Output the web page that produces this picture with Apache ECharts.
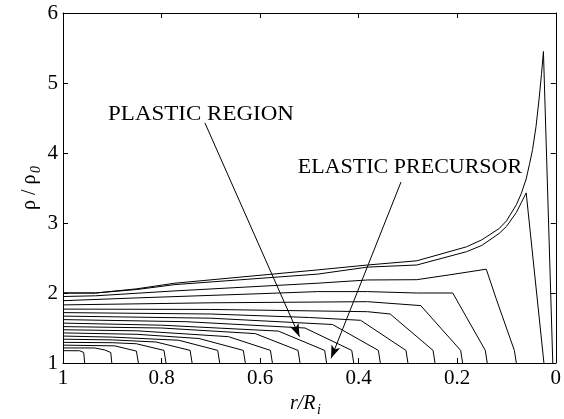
<!DOCTYPE html>
<html>
<head>
<meta charset="utf-8">
<script src="https://cdn.jsdelivr.net/npm/echarts@6/dist/echarts.min.js"></script>
<style>
html,body{margin:0;padding:0;background:#fff;}
#c{width:564px;height:419px;}
</style>
</head>
<body>
<div id="c"></div>
<script>
// density profiles rho/rho0 vs r/Ri, one per time step: [r, rho]
const profile01 = [[1,1.176],[0.966,1.175],[0.958,1.15],[0.956,1.0]];
const profile02 = [[1,1.215],[0.936,1.215],[0.915,1.186],[0.903,1.15],[0.901,1.0]];
const profile03 = [[1,1.255],[0.895,1.245],[0.851,1.17],[0.847,1.0]];
const profile04 = [[1,1.295],[0.9,1.29],[0.851,1.275],[0.795,1.18],[0.791,1.0]];
const profile05 = [[1,1.34],[0.9,1.33],[0.811,1.30],[0.742,1.18],[0.738,1.0]];
const profile06 = [[1,1.385],[0.9,1.37],[0.765,1.325],[0.686,1.18],[0.682,1.0]];
const profile07 = [[1,1.43],[0.85,1.41],[0.724,1.35],[0.634,1.18],[0.630,1.0]];
const profile08 = [[1,1.475],[0.85,1.46],[0.664,1.376],[0.579,1.18],[0.575,1.0]];
const profile09 = [[1,1.52],[0.8,1.50],[0.610,1.42],[0.523,1.18],[0.519,1.0]];
const profile10 = [[1,1.57],[0.8,1.54],[0.563,1.456],[0.469,1.18],[0.465,1.0]];
const profile11 = [[1,1.62],[0.75,1.59],[0.509,1.50],[0.414,1.18],[0.410,1.0]];
const profile12 = [[1,1.67],[0.7,1.64],[0.453,1.55],[0.360,1.18],[0.356,1.0]];
const profile13 = [[1,1.72],[0.7,1.70],[0.5,1.65],[0.396,1.61],[0.304,1.18],[0.300,1.0]];
const profile14 = [[1,1.77],[0.7,1.765],[0.382,1.733],[0.336,1.70],[0.249,1.18],[0.245,1.0]];
const profile15 = [[1,1.83],[0.7,1.86],[0.382,1.876],[0.274,1.82],[0.193,1.18],[0.189,1.0]];
const profile16 = [[1,1.89],[0.85,1.93],[0.6,1.99],[0.483,2.02],[0.382,2.02],[0.282,2.0],[0.209,2.0],[0.143,1.18],[0.139,1.0]];
const profile17 = [[1,1.95],[0.934,1.96],[0.773,2.03],[0.483,2.14],[0.382,2.186],[0.282,2.19],[0.215,2.26],[0.141,2.34],[0.121,1.92],[0.084,1.18],[0.080,1.0]];
const profile18 = [[1,2.0],[0.934,2.0],[0.85,2.05],[0.773,2.12],[0.483,2.27],[0.382,2.37],[0.282,2.40],[0.181,2.59],[0.15,2.68],[0.115,2.85],[0.10,2.95],[0.08,3.15],[0.07,3.29],[0.060,3.43],[0.024,1.0]];
const profile19 = [[1,2.0],[0.934,2.0],[0.85,2.06],[0.773,2.14],[0.483,2.33],[0.382,2.40],[0.282,2.46],[0.181,2.66],[0.15,2.76],[0.115,2.92],[0.10,3.03],[0.08,3.26],[0.07,3.42],[0.06,3.63],[0.053,3.85],[0.047,4.05],[0.040,4.38],[0.034,4.76],[0.029,5.12],[0.025,5.45],[0.006,1.0]];

const profiles = [profile01,profile02,profile03,profile04,profile05,profile06,profile07,profile08,profile09,profile10,
  profile11,profile12,profile13,profile14,profile15,profile16,profile17,profile18,profile19];

// annotation arrows: [from [r, rho], to [r, rho]]
const plasticArrow = [[0.712,4.43],[0.520,1.376]];
const elasticArrow = [[0.314,3.586],[0.456,1.067]];

const xTicks = [0, 1, 0.2];   // min, max, interval
const yTicks = [1, 6, 1];

const FONT = '"Liberation Serif", "Times New Roman", serif';

const chart = echarts.init(document.getElementById('c'), null, {renderer:'canvas'});

const series = profiles.map((p) => ({
  type: 'line',
  data: p,
  showSymbol: false,
  symbol: 'none',
  silent: true,
  lineStyle: {color: '#000', width: 1},
  emphasis: {disabled: true},
  animation: false
}));

series.push({
  type: 'line',
  data: [],
  silent: true,
  animation: false,
  markLine: {
    silent: true,
    animation: false,
    symbol: ['none', 'arrow'],
    symbolSize: [1, 11],
    label: {show: false},
    lineStyle: {color: '#000', width: 1, type: 'solid'},
    emphasis: {disabled: true},
    data: [
      [{coord: plasticArrow[0]}, {coord: plasticArrow[1], symbolSize: [7, 13]}],
      [{coord: elasticArrow[0]}, {coord: elasticArrow[1], symbolSize: [7, 13]}]
    ]
  }
});

const axisCommon = {
  type: 'value',
  axisLine: {show: true, onZero: false, lineStyle: {color: '#000', width: 1}},
  axisTick: {show: true, inside: true, length: 5, lineStyle: {color: '#000'}},
  splitLine: {show: false}
};

chart.setOption({
  animation: false,
  backgroundColor: '#fff',
  grid: {left: 63, right: 4, top: 13, bottom: 56, containLabel: false},
  xAxis: [
    Object.assign({}, axisCommon, {
      position: 'bottom', inverse: true,
      min: xTicks[0], max: xTicks[1], interval: xTicks[2],
      axisLabel: {show: true, color: '#000', fontFamily: FONT, fontSize: 21, margin: 5}
    }),
    Object.assign({}, axisCommon, {
      position: 'top', inverse: true,
      min: xTicks[0], max: xTicks[1], interval: xTicks[2],
      axisLabel: {show: false}
    })
  ],
  yAxis: [
    Object.assign({}, axisCommon, {
      position: 'left',
      min: yTicks[0], max: yTicks[1], interval: yTicks[2],
      axisLabel: {show: true, color: '#000', fontFamily: FONT, fontSize: 21, margin: 5}
    }),
    Object.assign({}, axisCommon, {
      position: 'right',
      min: yTicks[0], max: yTicks[1], interval: yTicks[2],
      axisLabel: {show: false}
    })
  ],
  series: series,
  graphic: [
    {
      type: 'text', x: 201, y: 115, scaleX: 1.15, silent: true,
      style: {text: 'PLASTIC REGION', fill: '#000', font: '20px ' + FONT, align: 'center', verticalAlign: 'middle'}
    },
    {
      type: 'text', x: 410, y: 168, scaleX: 1.1, silent: true,
      style: {text: 'ELASTIC PRECURSOR', fill: '#000', font: '20px ' + FONT, align: 'center', verticalAlign: 'middle'}
    },
    {
      type: 'group', x: 30, y: 188, rotation: Math.PI / 2, silent: true,
      children: [
        {type: 'text', x: -22, y: 0, style: {text: 'ρ / ρ', fill: '#000', font: '20px ' + FONT, align: 'left', verticalAlign: 'middle'}},
        {type: 'text', x: 15, y: 6, style: {text: '0', fill: '#000', font: 'italic 14px ' + FONT, align: 'left', verticalAlign: 'middle'}}
      ]
    },
    {
      type: 'text', x: 290, y: 404, silent: true,
      style: {text: 'r/R', fill: '#000', font: 'italic 20px ' + FONT, align: 'left', verticalAlign: 'middle'}
    },
    {
      type: 'text', x: 317, y: 410, silent: true,
      style: {text: 'i', fill: '#000', font: 'italic 14px ' + FONT, align: 'left', verticalAlign: 'middle'}
    }
  ]
});
</script>
</body>
</html>
